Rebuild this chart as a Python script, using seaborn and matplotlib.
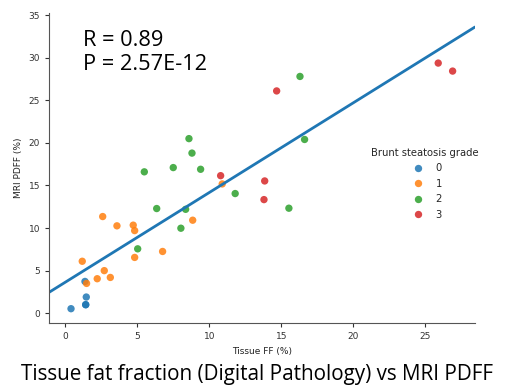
import numpy as np
import pandas as pd
import seaborn as sns
import matplotlib.pyplot as plt

# values
grade0_ff = [0.4, 1.37, 1.46, 1.42, 1.42]
grade0_pdff = [0.53, 3.73, 1.9, 1.0, 1.0]

grade1_ff = [1.18, 1.48, 2.22, 2.71, 3.13, 2.6, 3.59, 4.72, 4.82, 4.82, 6.76, 8.85, 10.9]
grade1_pdff = [6.1, 3.5, 4.05, 5.0, 4.2, 11.35, 10.26, 10.34, 9.7, 6.55, 7.25, 10.92, 15.18]

grade2_ff = [5.03, 6.35, 8.36, 8.03, 11.8, 5.49, 7.5, 8.59, 8.8, 9.4, 16.3, 16.62, 15.53]
grade2_pdff = [7.56, 12.29, 12.2, 9.98, 14.05, 16.6, 17.1, 20.5, 18.8, 16.9, 27.8, 20.4, 12.33]

grade3_ff = [10.79, 14.68, 25.9, 26.9, 13.85, 13.8]
grade3_pdff = [16.15, 26.1, 29.37, 28.43, 15.53, 13.34]

stats_text = "R = 0.89\nP = 2.57E-12"
title = "Tissue fat fraction (Digital Pathology) vs MRI PDFF"

df = pd.DataFrame({
    "Tissue FF (%)": grade0_ff + grade1_ff + grade2_ff + grade3_ff,
    "MRI PDFF (%)": grade0_pdff + grade1_pdff + grade2_pdff + grade3_pdff,
    "Brunt steatosis grade": ["0"] * len(grade0_ff) + ["1"] * len(grade1_ff)
    + ["2"] * len(grade2_ff) + ["3"] * len(grade3_ff),
})

sns.set_style("ticks")
fig = plt.figure(figsize=(5.14, 3.88), dpi=100)
ax = fig.add_axes([0.0953, 0.1675, 0.8287, 0.799])

sns.scatterplot(data=df, x="Tissue FF (%)", y="MRI PDFF (%)", hue="Brunt steatosis grade",
                palette="tab10", s=28, alpha=0.85, linewidth=0, ax=ax)
ax.set_xlim(-1.13, 28.45)
ax.set_ylim(-1.15, 35.25)
sns.regplot(data=df, x="Tissue FF (%)", y="MRI PDFF (%)", scatter=False, ci=None,
            truncate=False, color="#1f77b4", line_kws={"linewidth": 2}, ax=ax)

sns.despine(ax=ax)
for sp in ax.spines.values():
    sp.set_color("#555555")
ax.tick_params(labelsize=6.5, colors="#333333", length=3)
ax.set_xlabel("Tissue FF (%)", fontsize=6.5, color="#222222")
ax.set_ylabel("MRI PDFF (%)", fontsize=6.5, color="#222222")

leg = ax.legend(title="Brunt steatosis grade", loc="upper left", bbox_to_anchor=(0.735, 0.595),
                frameon=False, fontsize=7.2, title_fontsize=7.2, handletextpad=0.8,
                labelspacing=0.55)

ax.text(0.08, 0.872, stats_text, transform=ax.transAxes, fontsize=15.7, color="black",
        family="Open Sans", va="center", linespacing=1.15)
fig.text(0.5, 0.036, title, ha="center", va="center", fontsize=14.9, color="black",
         family="Open Sans")

fig.savefig("out.png", dpi=100)
